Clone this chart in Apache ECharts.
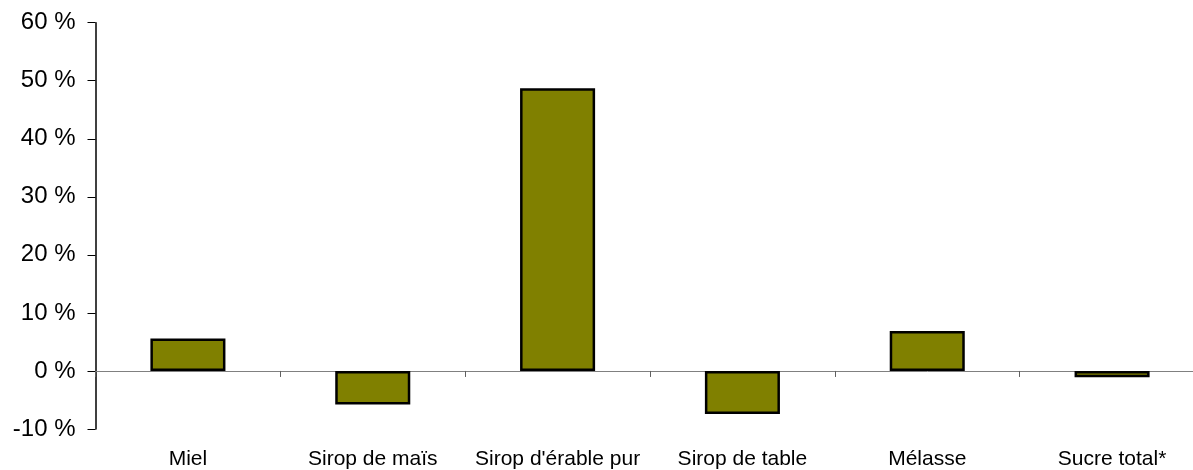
<!DOCTYPE html>
<html lang="fr">
<head>
    <meta charset="UTF-8">
    <title>Variation</title>
    <style>
        html, body { margin: 0; padding: 0; background: #fff; overflow: hidden; }
        /* la zone du graphique dépasse un peu à droite, comme dans l'original */
        #main { width: 1205px; height: 470px; }
    </style>
</head>
<body>
<div id="main"></div>
<script src="https://cdn.jsdelivr.net/npm/echarts@6/dist/echarts.min.js"></script>
<script>
    // données
    const categories = ['Miel', 'Sirop de maïs', "Sirop d'érable pur", 'Sirop de table', 'Mélasse', 'Sucre total*'];
    const values = [5.6, -5.8, 48.7, -7.4, 6.9, -1.1];
    const yTicks = [-10, 0, 10, 20, 30, 40, 50, 60];

    const font = 'Liberation Sans, Arial, sans-serif';
    const myChart = echarts.init(document.getElementById('main'));
    myChart.setOption({
        animation: false,
        grid: { left: 95.5, right: 0.5, top: 22.7, bottom: 40 },
        xAxis: [{
            type: 'category',
            data: categories,
            axisLine: { onZero: true, lineStyle: { color: '#808080', width: 1 } },
            axisTick: { show: true, length: 6, lineStyle: { color: '#606060' } },
            axisLabel: { show: false }
        }, {
            type: 'category',
            data: categories,
            position: 'bottom',
            axisLine: { show: false, onZero: false },
            axisTick: { show: false },
            axisLabel: { interval: 0, margin: 20, fontSize: 21, color: '#000', fontFamily: font }
        }],
        yAxis: {
            type: 'value',
            min: yTicks[0],
            max: yTicks[yTicks.length - 1],
            interval: 10,
            axisLine: { show: true, lineStyle: { color: '#000', width: 1.5 } },
            axisTick: { show: true, length: 8, lineStyle: { color: '#000' } },
            splitLine: { show: false },
            axisLabel: {
                margin: 20, fontSize: 24, color: '#000', fontFamily: font,
                formatter: v => v + ' %'
            }
        },
        series: [{
            type: 'bar',
            data: values,
            barWidth: '40.6%',
            itemStyle: { color: '#808000', borderColor: '#000', borderWidth: 2.5 }
        }]
    });
</script>
</body>
</html>
